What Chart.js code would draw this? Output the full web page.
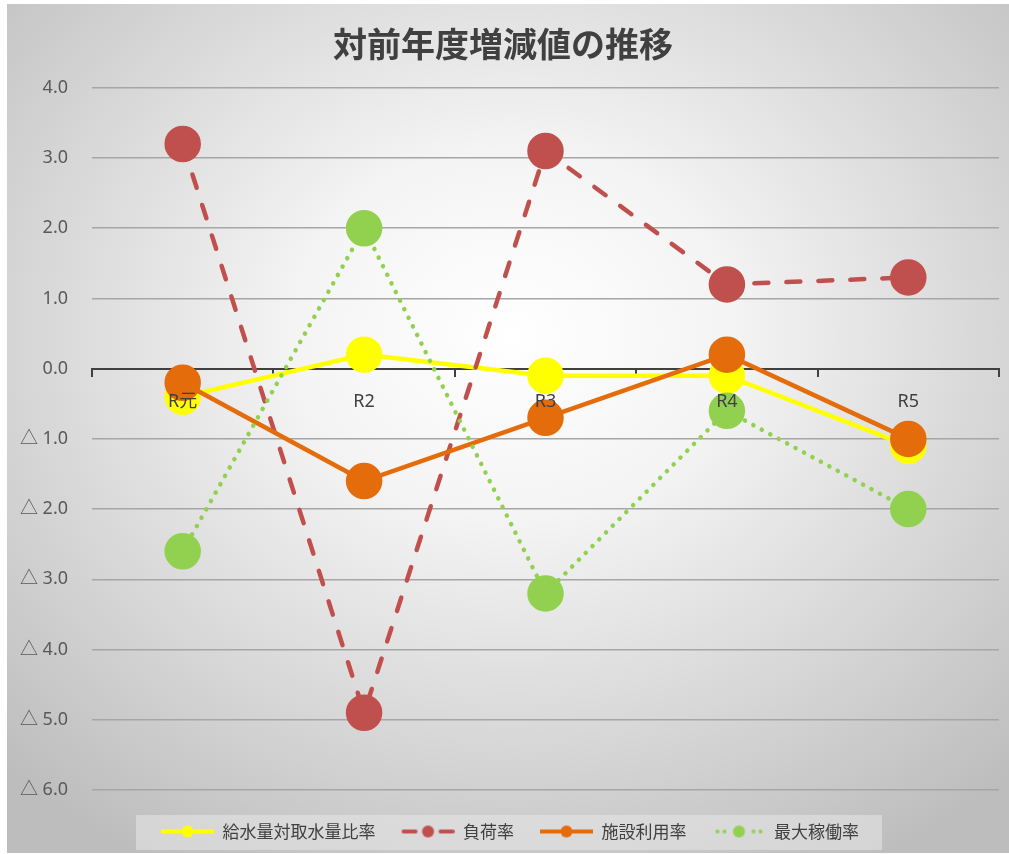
<!DOCTYPE html>
<html>
<head>
<meta charset="utf-8">
<script src="https://cdn.jsdelivr.net/npm/chart.js@4"></script>
<style>
html, body { margin: 0; padding: 0; background: #fff; overflow: hidden; }
#wrap { position: absolute; left: 7px; top: 4px; }
</style>
</head>
<body>
<div id="wrap"><canvas id="trend-chart" width="1002" height="849"></canvas></div>
<script>
// categories and series
const categories = ['R元', 'R2', 'R3', 'R4', 'R5'];
const supplyRatio = [-0.4, 0.2, -0.1, -0.1, -1.1];     // 給水量対取水量比率
const loadRate = [3.2, -4.9, 3.1, 1.2, 1.3];           // 負荷率
const facilityRate = [-0.2, -1.6, -0.7, 0.2, -1.0];    // 施設利用率
const maxOperationRate = [-2.6, 2.0, -3.2, -0.6, -2.0]; // 最大稼働率
const seriesNames = ['給水量対取水量比率', '負荷率', '施設利用率', '最大稼働率'];
const yMin = -6;
const yMax = 4;

const FONT = '"Noto Sans", "Noto Sans CJK JP", sans-serif';
const YELLOW = '#FFFF00';
const RED = '#C0504D';
const ORANGE = '#E46C0A';
const GREEN = '#92D050';

// Make a small legend icon: line + marker
function legendIcon(color, kind) {
    const c = document.createElement('canvas');
    c.width = 67;
    c.height = 20;
    const g = c.getContext('2d');
    g.strokeStyle = color;
    g.fillStyle = color;
    g.lineWidth = 4;
    if (kind === 'solid') {
        g.beginPath(); g.moveTo(14, 10); g.lineTo(67, 10); g.stroke();
    } else if (kind === 'dash') {
        g.lineCap = 'round';
        g.beginPath(); g.moveTo(16, 10); g.lineTo(28, 10); g.stroke();
        g.beginPath(); g.moveTo(53, 10); g.lineTo(65, 10); g.stroke();
    } else {
        [19, 26, 55, 62].forEach(x => {
            g.beginPath(); g.arc(x, 10, 2, 0, Math.PI * 2); g.fill();
        });
    }
    g.beginPath(); g.arc(40.5, 10, 6, 0, Math.PI * 2); g.fill();
    return c;
}

const icons = [
    legendIcon(YELLOW, 'solid'),
    legendIcon(RED, 'dash'),
    legendIcon(ORANGE, 'solid'),
    legendIcon(GREEN, 'dot')
];

// Background gradient + grey box behind the legend
const backdrop = {
    id: 'backdrop',
    beforeDraw(chart) {
        const ctx = chart.ctx;
        ctx.save();
        ctx.translate(505, 330);
        ctx.scale(1, 0.85);
        const grad = ctx.createRadialGradient(0, 0, 0, 0, 0, 720);
        grad.addColorStop(0, '#ffffff');
        grad.addColorStop(0.3, '#f4f4f4');
        grad.addColorStop(1, '#bdbdbd');
        ctx.fillStyle = grad;
        ctx.fillRect(-600, -500, 1300, 1200);
        ctx.restore();

        const boxes = chart.legend.legendHitBoxes;
        if (boxes && boxes.length) {
            const first = boxes[0];
            const last = boxes[boxes.length - 1];
            ctx.save();
            ctx.fillStyle = 'rgba(232,232,232,0.55)';
            ctx.fillRect(first.left - 11, first.top - 8, last.left + last.width + 23 - (first.left - 11), 35);
            ctx.restore();
        }
    }
};

function initializeChart() {
    const ctx = document.getElementById('trend-chart').getContext('2d');
    return new Chart(ctx, {
        type: 'line',
        data: {
            labels: categories,
            datasets: [{
                label: seriesNames[0],
                data: supplyRatio,
                borderColor: YELLOW,
                backgroundColor: YELLOW,
                borderWidth: 4.5,
                order: 4
            }, {
                label: seriesNames[1],
                data: loadRate,
                borderColor: RED,
                backgroundColor: RED,
                borderWidth: 4.5,
                borderDash: [14, 18],
                borderCapStyle: 'round',
                order: 3
            }, {
                label: seriesNames[2],
                data: facilityRate,
                borderColor: ORANGE,
                backgroundColor: ORANGE,
                borderWidth: 4.5,
                order: 2
            }, {
                label: seriesNames[3],
                data: maxOperationRate,
                borderColor: GREEN,
                backgroundColor: GREEN,
                borderWidth: 4.5,
                borderDash: [0.1, 9.5],
                borderCapStyle: 'round',
                order: 1
            }]
        },
        options: {
            responsive: false,
            animation: false,
            layout: { autoPadding: false, padding: { left: 0, right: 10, top: 0, bottom: 3 } },
            elements: {
                line: { tension: 0, fill: false },
                point: { radius: 16, borderWidth: 0, hoverRadius: 16 }
            },
            scales: {
                // zero line with tick marks under the data, labels above it
                x: {
                    position: { y: 0 },
                    offset: true,
                    afterFit(s) { s.paddingLeft = 0; s.paddingRight = 0; },
                    grid: {
                        display: true,
                        drawOnChartArea: false,
                        drawTicks: true,
                        tickLength: 7,
                        offset: true,
                        color: '#404040',
                        lineWidth: 2
                    },
                    border: { display: true, color: '#404040', width: 2 },
                    ticks: {
                        z: 1,
                        padding: 15,
                        color: '#404040',
                        font: { family: FONT, size: 18 }
                    }
                },
                y: {
                    min: yMin,
                    max: yMax,
                    afterFit(scale) { scale.width = 85; },
                    grid: {
                        color: '#a6a6a6',
                        lineWidth: 1.5,
                        drawTicks: false
                    },
                    border: { display: false },
                    ticks: {
                        stepSize: 1,
                        padding: 24,
                        color: '#595959',
                        font: { family: FONT, size: 18 },
                        callback: v => v < 0 ? '△ ' + Math.abs(v).toFixed(1) : v.toFixed(1)
                    }
                }
            },
            plugins: {
                title: {
                    display: true,
                    text: '対前年度増減値の推移',
                    color: '#404040',
                    font: { family: '"Noto Sans CJK JP", sans-serif', size: 34, weight: 'bold' },
                    padding: { top: 20, bottom: 23 }
                },
                legend: {
                    position: 'bottom',
                    title: { display: true, text: '', padding: 0, font: { size: 21, lineHeight: 1 } },
                    labels: {
                        usePointStyle: true,
                        pointStyleWidth: 67,
                        padding: 12,
                        color: '#404040',
                        font: { family: '"Noto Sans CJK JP", sans-serif', size: 17 },
                        sort: (a, b) => a.datasetIndex - b.datasetIndex,
                        generateLabels(chart) {
                            const items = Chart.defaults.plugins.legend.labels.generateLabels(chart);
                            items.forEach(it => { it.pointStyle = icons[it.datasetIndex]; });
                            return items;
                        }
                    }
                },
                tooltip: { enabled: false }
            }
        },
        plugins: [backdrop]
    });
}

initializeChart();
</script>
</body>
</html>
